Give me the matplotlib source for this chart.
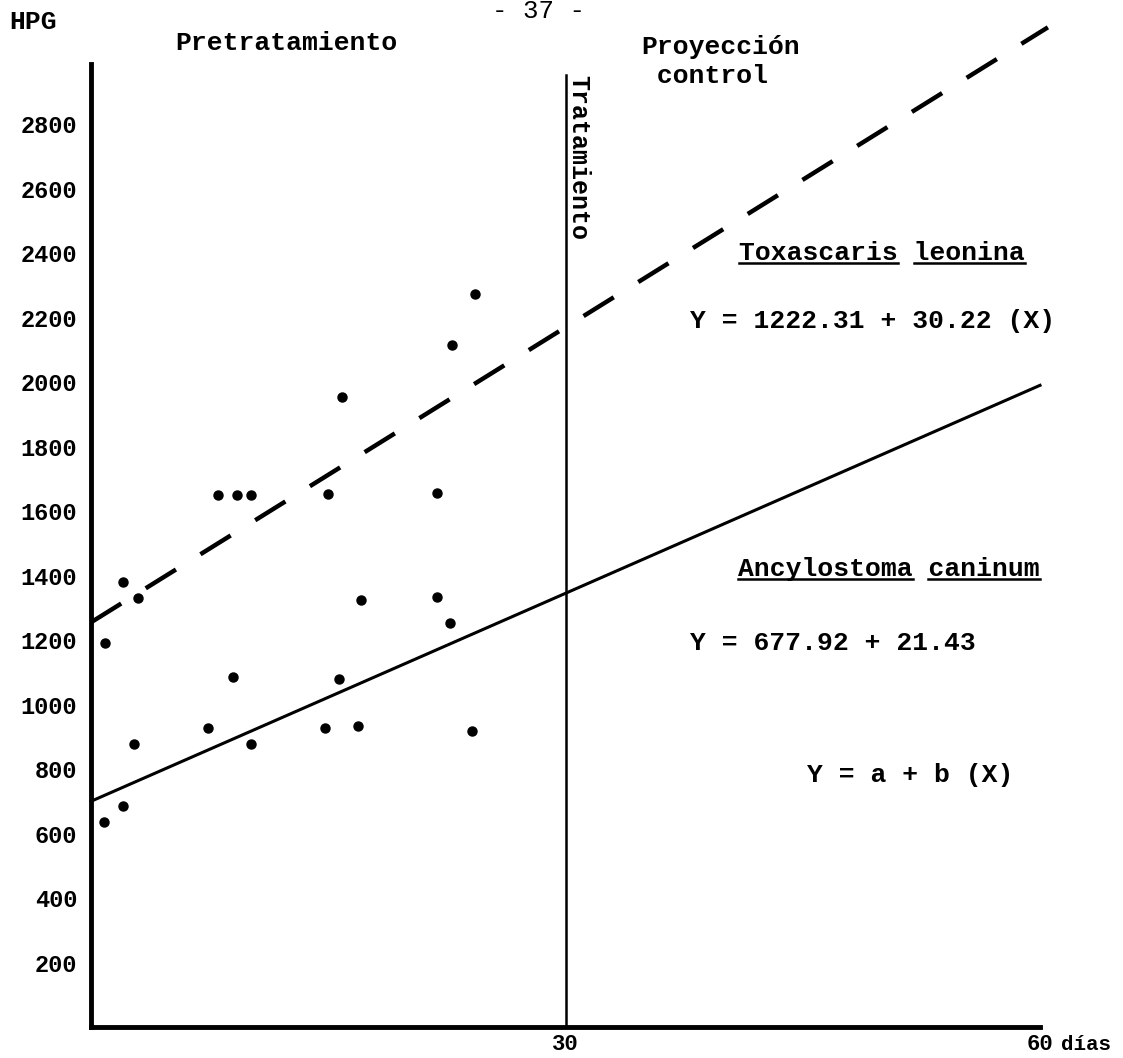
import matplotlib.pyplot as plt
import numpy as np
from matplotlib.lines import Line2D

# Datos pretratamiento (días, HPG)
dias = [0.9, 0.8, 2.0, 2.0, 3.0, 2.7, 7.4, 8.0, 9.2, 10.1, 9.0, 10.1,
        14.8, 15.0, 15.9, 15.7, 17.1, 16.9, 21.9, 21.9, 22.7, 22.8, 24.3, 24.1]
hpg = [1192, 635, 684, 1381, 1331, 879, 926, 1650, 1650, 1650, 1084, 879,
       926, 1653, 1953, 1080, 1325, 935, 1656, 1333, 1253, 2115, 2273, 918]

# Rectas trazadas (Y = a + b X)
toxa_a, toxa_b = 1255, 30.5     # Toxascaris leonina (discontinua)
ancy_a, ancy_b = 700, 21.5      # Ancylostoma caninum (continua)
x_toxa = np.array([0, 60.5])
x_ancy = np.array([0, 60])

y_ticks = list(range(200, 3000, 200))
x_ticks = [30, 60]
x_tick_labels = ['30', '60']

mono = 'Liberation Mono'

fig = plt.figure(figsize=(11.23, 10.58), dpi=100)
ax = fig.add_axes([91 / 1123, 31 / 1058, 949 / 1123, 1027 / 1058])
ax.set_xlim(0, 60)
ax.set_ylim(0, 3185)

# Ejes
for s in ['top', 'right']:
    ax.spines[s].set_visible(False)
ax.spines['left'].set_linewidth(3.5)
ax.spines['bottom'].set_linewidth(3.5)
ax.spines['left'].set_bounds(0, 2985)
ax.spines['bottom'].set_bounds(0, 60)

ax.set_yticks(y_ticks)
ax.set_yticklabels([str(v) for v in y_ticks], fontfamily=mono,
                   fontweight='bold', fontsize=17)
ax.set_xticks(x_ticks)
ax.set_xticklabels(x_tick_labels, fontfamily=mono, fontweight='bold', fontsize=16)
ax.tick_params(axis='y', length=0, pad=10)
ax.tick_params(axis='x', length=0, pad=5)

# Línea de tratamiento
ax.plot([30, 30], [0, 2952], color='black', lw=1.8)

# Rectas
ax.plot(x_toxa, toxa_a + toxa_b * x_toxa, color='black', lw=3.2,
        linestyle=(0, (8, 6.5)), clip_on=False)
ax.plot(x_ancy, ancy_a + ancy_b * x_ancy, color='black', lw=2.2, clip_on=False)

# Puntos
ax.plot(dias, hpg, 'o', color='black', markersize=6.5)

# Textos
kw = dict(fontfamily=mono, fontweight='bold', fontsize=19, va='center', ha='left')
ax.text(-5.2, 3118, 'HPG', clip_on=False, **kw)
ax.text(5.3, 3052, 'Pretratamiento', **kw)
ax.text(28.3, 3150, '- 37 -', fontfamily=mono, fontsize=18.5, va='center', ha='center')
ax.text(34.8, 2995, 'Proyección\n control', fontfamily=mono, fontweight='bold',
        fontsize=19, va='center', ha='left', linespacing=1.25)
ax.text(30.05, 2952, 'Tratamiento', fontfamily=mono, fontweight='bold', fontsize=18,
        rotation=-90, va='top', ha='left')

t_toxa = ax.text(41.0, 2400, 'Toxascaris leonina', **kw)
ax.text(37.9, 2190, 'Y = 1222.31 + 30.22 (X)', **kw)
t_ancy = ax.text(40.9, 1420, 'Ancylostoma caninum', **kw)
ax.text(37.9, 1190, 'Y = 677.92 + 21.43', **kw)
ax.text(45.3, 780, 'Y = a + b (X)', **kw)
ax.text(61.3, -0.017, 'días', transform=ax.get_xaxis_transform(),
        fontfamily=mono, fontweight='bold', fontsize=15, va='center', ha='left')

# Subrayado por palabra
fig.canvas.draw()
inv = fig.transFigure.inverted()
for t in [t_toxa, t_ancy]:
    txt = t.get_text()
    bb = t.get_window_extent()
    cw = bb.width / len(txt)
    pos = 0
    for palabra in txt.split(' '):
        x0 = bb.x0 + pos * cw
        x1 = x0 + len(palabra) * cw
        yl = bb.y0 + 2
        (fx0, fy), (fx1, _) = inv.transform([(x0, yl), (x1, yl)])
        fig.add_artist(Line2D([fx0, fx1], [fy, fy], color='black', lw=1.8))
        pos += len(palabra) + 1

fig.savefig('out.png', dpi=100)
